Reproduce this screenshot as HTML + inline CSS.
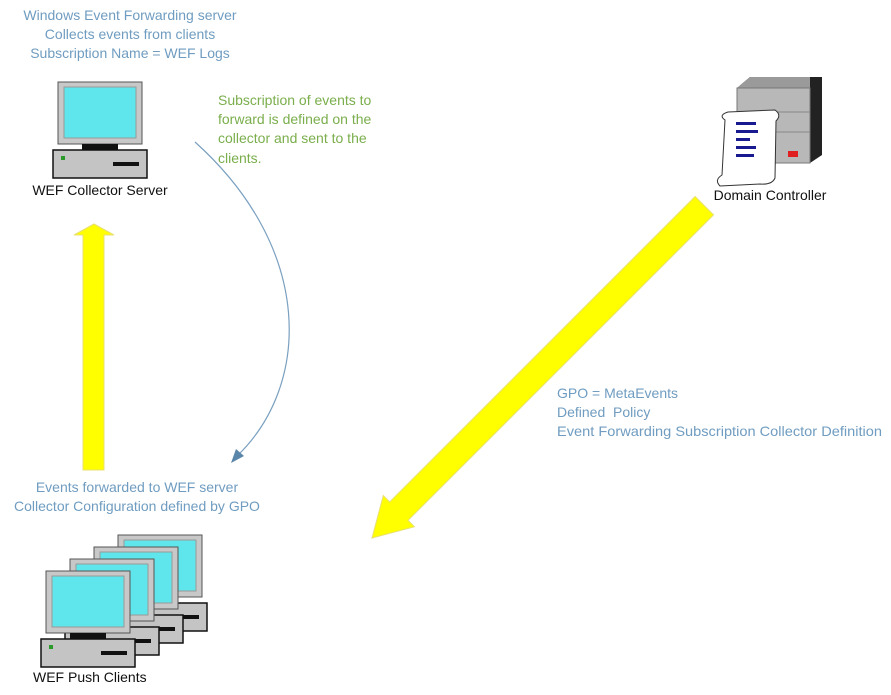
<!DOCTYPE html>
<html><head><meta charset="utf-8"><style>
html,body{margin:0;padding:0;background:#fff;}
svg{display:block;font-family:"Liberation Sans",sans-serif;}
</style></head><body>
<svg width="891" height="695" viewBox="0 0 891 695" xmlns="http://www.w3.org/2000/svg">
<defs>
<g id="pc">
 <rect x="0" y="0" width="84" height="62" fill="#c8c8c8" stroke="#555" stroke-width="1"/>
 <rect x="6" y="5" width="72" height="51" fill="#5fe6ec"/>
 <rect x="6" y="5" width="72" height="51" fill="none" stroke="#999"/>
 <rect x="24" y="62" width="36" height="6" fill="#111"/>
 <rect x="-5" y="68" width="94" height="28" fill="#c4c4c4" stroke="#111" stroke-width="1.5"/>
 <rect x="3" y="74" width="4" height="4" fill="#2a9a2a"/>
 <rect x="55" y="80" width="26" height="4" fill="#111"/>
</g>
</defs>
<g fill="#6f9cc0" font-size="14" text-anchor="middle">
 <text x="130" y="20">Windows Event Forwarding server</text>
 <text x="130" y="39">Collects events from clients</text>
 <text x="130" y="58">Subscription Name = WEF Logs</text>
</g>
<use href="#pc" x="58" y="82"/>
<text x="100" y="195" font-size="14" text-anchor="middle" fill="#111">WEF Collector Server</text>
<g fill="#7aae4c" font-size="14">
 <text x="218" y="105">Subscription of events to</text>
 <text x="218" y="124">forward is defined on the</text>
 <text x="218" y="143">collector and sent to the</text>
 <text x="218" y="163">clients.</text>
</g>
<path d="M195,142 C315,250 310,385 238,455" fill="none" stroke="#7aa0c0" stroke-width="1.2"/>
<polygon points="231,463 236,449 244,456" fill="#5a86aa"/>
<polygon points="94,224 114,235 104,235 104,470 83,470 83,235 74,235" fill="#ffff00" stroke="#e8e070" stroke-width="1"/>
<g transform="translate(372,538) rotate(-45)">
 <polygon points="0,0 38,-22 38,-13 470,-13 470,13 38,13 38,22" fill="#ffff00" stroke="#e8e070" stroke-width="1"/>
</g>
<polygon points="737,88 750,77 822,77 822,155 810,163" fill="#222"/>
<polygon points="737,88 750,77 810,77 810,88" fill="#9a9a9a"/>
<rect x="737" y="88" width="73" height="75" fill="#b8b8b8" stroke="#777"/>
<line x1="737" y1="112" x2="810" y2="112" stroke="#888"/>
<line x1="737" y1="132" x2="810" y2="132" stroke="#888"/>
<rect x="788" y="151" width="10" height="6" fill="#e02020"/>
<path d="M725,120 Q718,115 728,112 L775,110 Q782,115 776,121 L775,178 Q772,185 760,184 L720,186 Q714,180 722,175 Z" fill="#fff" stroke="#333" stroke-width="1"/>
<g fill="#1a1a90">
 <rect x="736" y="122" width="20" height="3"/><rect x="736" y="130" width="22" height="3"/>
 <rect x="736" y="138" width="14" height="3"/><rect x="736" y="146" width="20" height="3"/>
 <rect x="736" y="154" width="18" height="3"/>
</g>
<text x="770" y="200" font-size="14" text-anchor="middle" fill="#111">Domain Controller</text>
<g fill="#6f9cc0" font-size="14">
 <text x="557" y="398">GPO = MetaEvents</text>
 <text x="557" y="417">Defined&#160; Policy</text>
 <text x="557" y="436" textLength="325" lengthAdjust="spacingAndGlyphs">Event Forwarding Subscription Collector Definition</text>
</g>
<g fill="#6f9cc0" font-size="14" text-anchor="middle">
 <text x="137" y="492">Events forwarded to WEF server</text>
 <text x="137" y="511">Collector Configuration defined by GPO</text>
</g>
<use href="#pc" x="118" y="535"/>
<use href="#pc" x="94" y="547"/>
<use href="#pc" x="70" y="559"/>
<use href="#pc" x="46" y="571"/>
<text x="33" y="682" font-size="14" fill="#111">WEF Push Clients</text>
</svg>
</body></html>
